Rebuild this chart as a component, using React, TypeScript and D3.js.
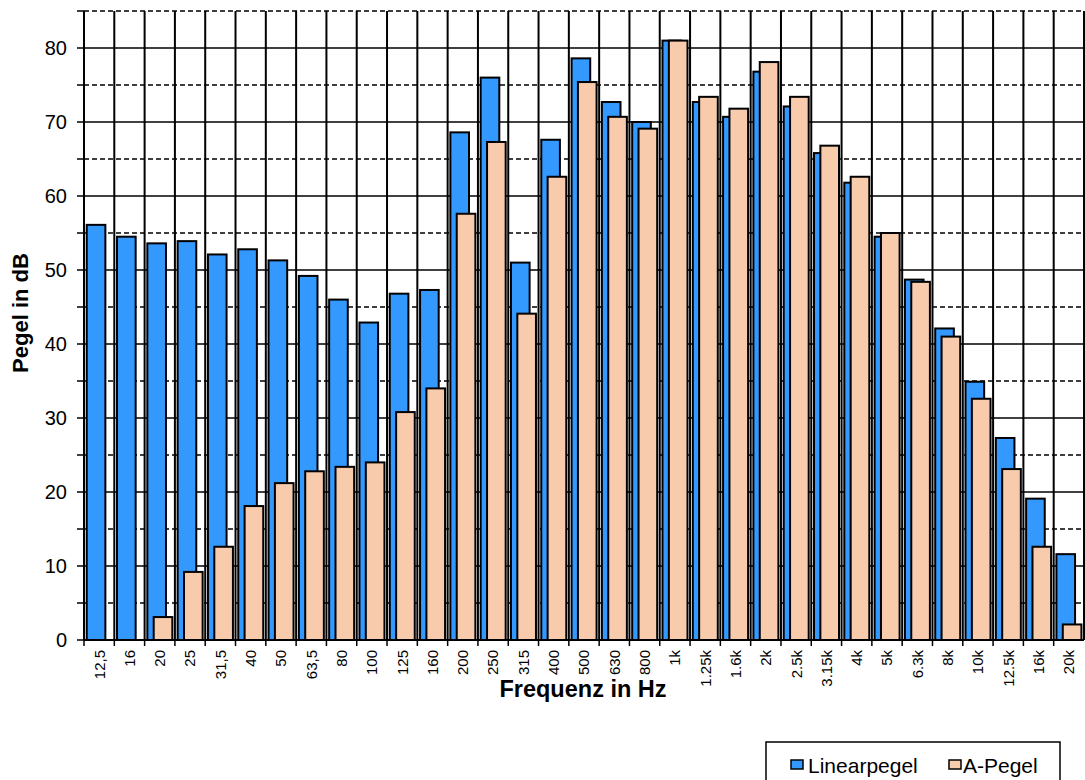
import React from "react";
import * as d3 from "d3";

const categories = ["12,5","16","20","25","31,5","40","50","63,5","80","100","125","160","200","250","315","400","500","630","800","1k","1.25k","1.6k","2k","2.5k","3.15k","4k","5k","6.3k","8k","10k","12.5k","16k","20k"];
const linearpegel = [56.1,54.5,53.6,53.9,52.1,52.8,51.3,49.2,46.0,42.9,46.8,47.3,68.6,76.0,51.0,67.6,78.6,72.7,70.0,81.0,72.7,70.7,76.8,72.1,65.8,61.8,54.5,48.7,42.1,34.9,27.3,19.1,11.6];
const aPegel: (number | null)[] = [null,null,3.1,9.2,12.6,18.1,21.2,22.8,23.4,24.0,30.8,34.0,57.6,67.3,44.1,62.6,75.4,70.7,69.1,81.0,73.4,71.8,78.1,73.4,66.8,62.6,55.0,48.4,41.0,32.6,23.1,12.6,2.1];
const yTicks = [0,10,20,30,40,50,60,70,80];
const yMinor = [5,15,25,35,45,55,65,75,85];
const seriesNames = ["Linearpegel","A-Pegel"];

const BLUE = "#3399ff";
const PEACH = "#f8cbad";

export default function App() {
  const W = 1085, H = 780;
  const left = 84, right = 1084, top = 11, bottom = 640;
  const x = d3.scaleBand<string>().domain(categories).range([left, right]).padding(0);
  const y = d3.scaleLinear().domain([0, 85]).range([bottom, top]);
  const bw = x.bandwidth();
  const barW = 0.615 * bw;
  const font = "'Liberation Sans', Arial, sans-serif";

  return (
    <svg width={W} height={H} style={{ position: "absolute", left: 0, top: 0, background: "#fff" }} fontFamily={font}>
      <rect x={0} y={0} width={W} height={H} fill="#fff" />
      {yMinor.map((v) => (
        <line key={"mn" + v} x1={left} x2={right} y1={y(v)} y2={y(v)} stroke="#000" strokeWidth={1.5} strokeDasharray="5,3" />
      ))}
      {yTicks.filter((v) => v > 0).map((v) => (
        <line key={"mj" + v} x1={left} x2={right} y1={y(v)} y2={y(v)} stroke="#000" strokeWidth={1.7} />
      ))}
      {categories.map((c, i) => (
        <line key={"vg" + i} x1={x(c) as number} x2={x(c) as number} y1={top} y2={bottom} stroke="#000" strokeWidth={2} />
      ))}
      <line x1={right} x2={right} y1={top} y2={bottom} stroke="#000" strokeWidth={2} />
      {categories.map((c, i) => {
        const x0 = x(c) as number;
        const v = linearpegel[i];
        return (
          <rect key={"b" + i} x={x0 + 0.09 * bw} y={y(v)} width={barW} height={bottom - y(v)} fill={BLUE} stroke="#000" strokeWidth={2} />
        );
      })}
      {categories.map((c, i) => {
        const x0 = x(c) as number;
        const v = aPegel[i];
        if (v == null) return null;
        return (
          <rect key={"p" + i} x={x0 + 0.30 * bw} y={y(v)} width={barW} height={bottom - y(v)} fill={PEACH} stroke="#000" strokeWidth={2} />
        );
      })}
      <line x1={left} x2={left} y1={top} y2={bottom} stroke="#000" strokeWidth={2} />
      <line x1={left} x2={right} y1={bottom} y2={bottom} stroke="#000" strokeWidth={2} />
      {[...yTicks, ...yMinor].map((v) => (
        <line key={"yt" + v} x1={left - 7} x2={left} y1={y(v)} y2={y(v)} stroke="#000" strokeWidth={1.5} />
      ))}
      {yTicks.map((v) => (
        <text key={"yl" + v} x={67} y={y(v)} dy="0.36em" textAnchor="end" fontSize={20} fill="#000">{v}</text>
      ))}
      {categories.map((c, i) => (
        <line key={"xt" + i} x1={x(c) as number} x2={x(c) as number} y1={bottom} y2={bottom + 6} stroke="#000" strokeWidth={1.5} />
      ))}
      {categories.map((c) => {
        const cx = (x(c) as number) + bw / 2;
        return (
          <text key={"xl" + c} transform={`translate(${cx},${650}) rotate(-90)`} textAnchor="end" dy="0.36em" fontSize={15} fill="#000">{c}</text>
        );
      })}
      <text transform={`translate(28,${313}) rotate(-90)`} textAnchor="middle" fontSize={22} fontWeight="bold" fill="#000">Pegel in dB</text>
      <text x={583} y={697} textAnchor="middle" fontSize={23.5} fontWeight="bold" fill="#000">Frequenz in Hz</text>
      <rect x={766} y={742} width={294} height={50} fill="#fff" stroke="#000" strokeWidth={1.5} />
      <rect x={791} y={760} width={12} height={9} fill={BLUE} stroke="#000" strokeWidth={1.5} />
      <text x={808} y={773} fontSize={21} fill="#000">{seriesNames[0]}</text>
      <rect x={949} y={760} width={12} height={9} fill={PEACH} stroke="#000" strokeWidth={1.5} />
      <text x={963} y={773} fontSize={21} fill="#000">{seriesNames[1]}</text>
    </svg>
  );
}
